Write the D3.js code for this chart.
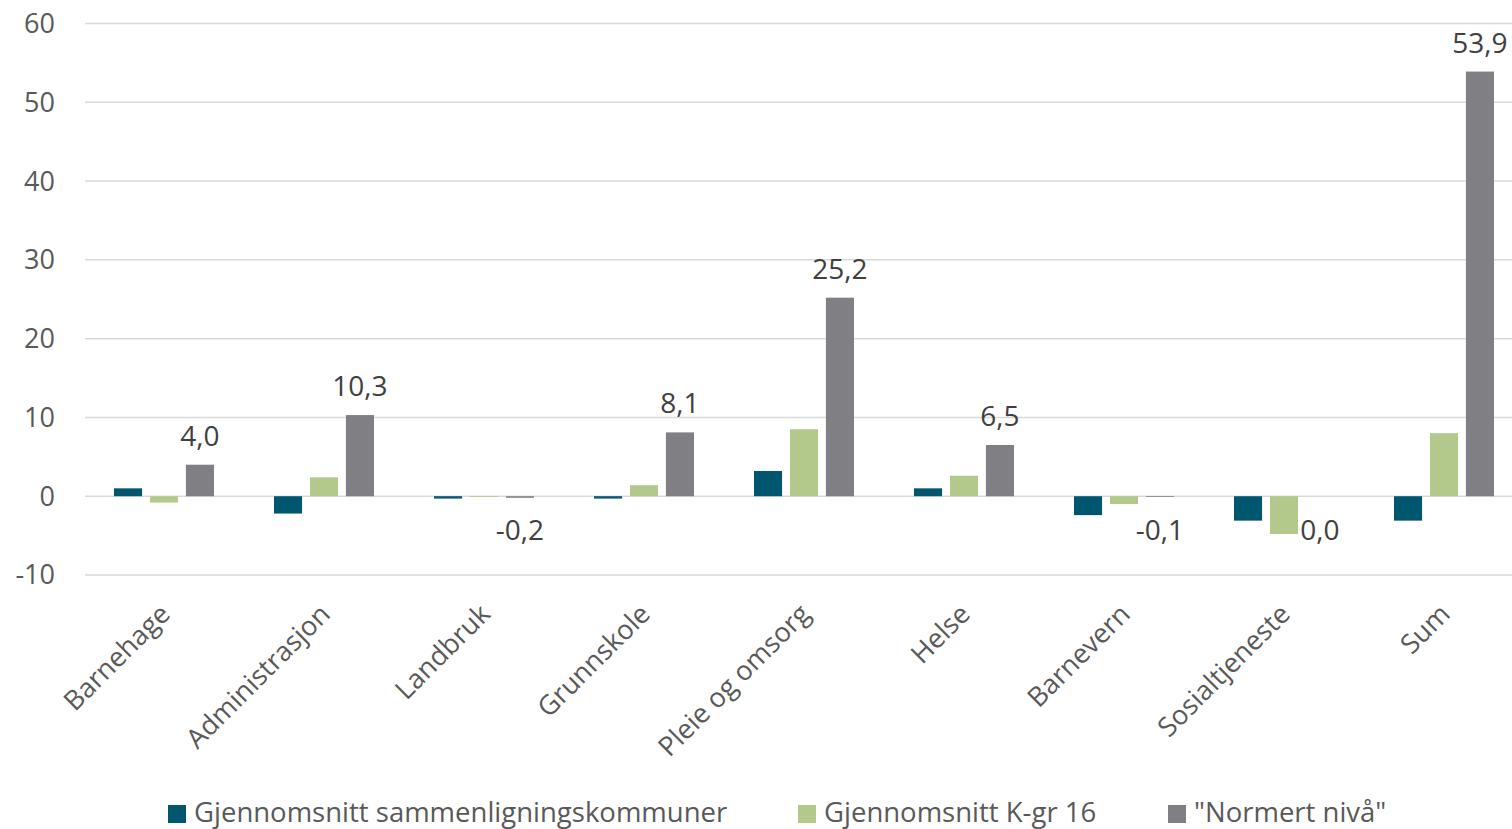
<!DOCTYPE html>
<html><head><meta charset="utf-8">
<script src="https://cdn.jsdelivr.net/npm/d3@7"></script>
<style>body{margin:0;background:#fff;} svg{display:block;font-family:"Open Sans",sans-serif;}</style>
</head><body>
<svg id="c" width="1512" height="829"></svg>
<script>
const categories = ["Barnehage","Administrasjon","Landbruk","Grunnskole","Pleie og omsorg","Helse","Barnevern","Sosialtjeneste","Sum"];
const seriesNames = ["Gjennomsnitt sammenligningskommuner","Gjennomsnitt K-gr 16","\"Normert nivå\""];
const sammenligning = [1.0,-2.2,-0.3,-0.3,3.2,1.0,-2.4,-3.1,-3.1];
const kgr16 = [-0.8,2.4,-0.1,1.4,8.5,2.6,-1.0,-4.8,8.0];
const normert = [4.0,10.3,-0.2,8.1,25.2,6.5,-0.1,0.0,53.9];
const yTicks = [-10,0,10,20,30,40,50,60];
const colors = ["#00566f","#b3c98b","#807f84"];

const series = [sammenligning,kgr16,normert];
const svg = d3.select("#c");
const x = d3.scaleBand().domain(categories).range([84,1524]);
const y = d3.scaleLinear().domain([-10,60]).range([575,23.5]);
const inner = d3.scaleBand().domain([0,1,2]).range([0,100]).paddingInner(0.22);
const offset = (x.bandwidth()-100)/2;

svg.append("g").selectAll("line").data(yTicks).join("line")
  .attr("x1",85).attr("x2",1512).attr("y1",d=>y(d)).attr("y2",d=>y(d))
  .attr("stroke","#d9d9d9").attr("stroke-width",1.5);

svg.append("g").selectAll("text").data(yTicks).join("text")
  .attr("x",55).attr("y",d=>y(d)).attr("dy","0.35em").attr("text-anchor","end")
  .attr("font-size",27).attr("fill","#595959").text(d=>d);

series.forEach((vals,si)=>{
  svg.append("g").selectAll("rect").data(vals).join("rect")
    .attr("x",(d,i)=>x(categories[i])+offset+inner(si))
    .attr("width",inner.bandwidth())
    .attr("y",d=>y(Math.max(0,d)))
    .attr("height",d=>Math.abs(y(d)-y(0)))
    .attr("fill",colors[si]);
});

const fmt = v => v.toFixed(1).replace(".",",");
svg.append("g").selectAll("text").data(normert).join("text")
  .attr("x",(d,i)=>x(categories[i])+offset+inner(2)+inner.bandwidth()/2)
  .attr("y",d=> d>0 ? y(d)-19 : y(0)+44)
  .attr("text-anchor","middle").attr("font-size",28).attr("fill","#404040")
  .text(d=>fmt(d));

svg.append("g").selectAll("text").data(categories).join("text")
  .attr("transform",d=>`translate(${x(d)+x.bandwidth()/2+1},${609}) rotate(-45)`)
  .attr("dy","0.35em").attr("text-anchor","end")
  .attr("font-size",27).attr("fill","#595959").text(d=>d);

const legX = [168,798,1168];
const lg = svg.append("g");
seriesNames.forEach((n,i)=>{
  lg.append("rect").attr("x",legX[i]).attr("y",805).attr("width",18).attr("height",18).attr("fill",colors[i]);
  lg.append("text").attr("x",legX[i]+26).attr("y",822).attr("font-size",27.5).attr("fill","#595959").text(n);
});
</script>
</body></html>
